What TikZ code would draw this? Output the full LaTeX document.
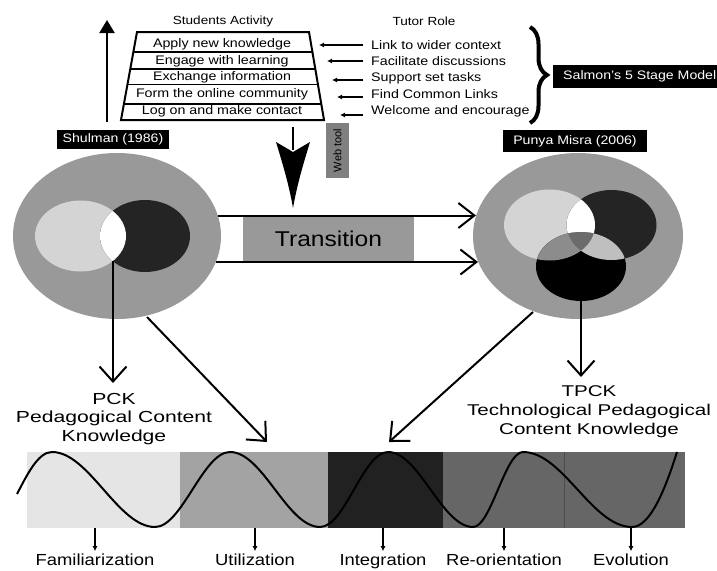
\documentclass[tikz,border=0pt]{standalone}
\usepackage{fontspec}
\setmainfont[FakeStretch=1.15]{Liberation Sans}
\newfontfamily\widefont[FakeStretch=1.32]{Liberation Sans}
\newfontfamily\plainfont{Liberation Sans}
\usetikzlibrary{arrows.meta,decorations.pathreplacing,calc}
\definecolor{bgray}{gray}{0.6}
\definecolor{lgray}{gray}{0.83}
\definecolor{dgray}{gray}{0.14}
\definecolor{ovA}{gray}{0.55}
\definecolor{ovB}{gray}{0.75}
\definecolor{ovC}{gray}{0.42}
\definecolor{webgray}{gray}{0.5}
\definecolor{barA}{gray}{0.9}
\definecolor{barB}{gray}{0.64}
\definecolor{barC}{gray}{0.13}
\definecolor{barD}{gray}{0.4}
\begin{document}
\begin{tikzpicture}[x=1pt,y=-1pt,
  openarrow/.style={line width=2pt,-{Straight Barb[length=15pt,width=27pt]}},
  smallarrow/.style={line width=1.1pt,-{Latex[length=5pt,width=5pt]}},
  blackbox/.style={fill=black,text=white,inner sep=0pt,font=\fontsize{12.3}{14}\selectfont},
  rowtext/.style={inner sep=0pt,font=\fontsize{12.4}{14}\selectfont},
  hdrtext/.style={inner sep=0pt,font=\fontsize{11.8}{14}\selectfont},
  labtext/.style={inner sep=0pt,anchor=base,font=\fontsize{16}{18}\selectfont},
  bigtext/.style={inner sep=0pt,anchor=north,align=center}]
\useasboundingbox (0,0) rectangle (717,570);
\fill[white] (0,0) rectangle (717,570);

% headers
\node[hdrtext] (sa) at (223,21) {Students Activity};
\node[hdrtext] (tr) at (424,21) {Tutor Role};

% trapezoid
\coordinate (tl) at (137,32);
\coordinate (trr) at (309,32);
\coordinate (br) at (324,120);
\coordinate (bl) at (121,120);
\draw[line width=2pt,line join=miter] (tl) -- (trr) -- (br) -- (bl) -- cycle;
\foreach \yy in {52,69,84.5,104}
  \draw[line width=1.2pt] ($(tl)!{(\yy-32)/88}!(bl)$) -- ($(trr)!{(\yy-32)/88}!(br)$);
\node[rowtext] (r1) at (222,44) {Apply new knowledge};
\node[rowtext] (r2) at (222,61) {Engage with learning};
\node[rowtext] (r3) at (222,77.5) {Exchange information};
\node[rowtext] (r4) at (222,94.5) {Form the online community};
\node[rowtext] (r5) at (222,111.5) {Log on and make contact};

% tutor roles
\node[rowtext,anchor=west] (t1) at (371,45) {Link to wider context};
\node[rowtext,anchor=west] (t2) at (371,61) {Facilitate discussions};
\node[rowtext,anchor=west] (t3) at (371,78) {Support set tasks};
\node[rowtext,anchor=west] (t4) at (371,94.5) {Find Common Links};
\node[rowtext,anchor=west] (t5) at (371,111) {Welcome and encourage};
\coordinate (a1) at (319,45);
\coordinate (a2) at (327,61);
\coordinate (a3) at (332,80);
\coordinate (a4) at (337,97);
\coordinate (a5) at (340,115);
\draw[smallarrow] ([xshift=-8pt]t1.west) -- (a1);
\draw[smallarrow] ([xshift=-8pt]t2.west) -- (a2);
\draw[smallarrow] ([xshift=-8pt,yshift=-2pt]t3.west) -- (a3);
\draw[smallarrow] ([xshift=-8pt,yshift=-2.5pt]t4.west) -- (a4);
\draw[smallarrow] ([xshift=-8pt,yshift=-4pt]t5.west) -- (a5);

% brace and Salmon box
\draw[line width=4pt,decorate,decoration={brace,amplitude=17pt}] (530,27) -- (530,123);
\node[blackbox,anchor=west,minimum height=23pt,inner xsep=10pt] (salmon) at (553,76.5) {Salmon's 5 Stage Model};

% upward arrow
\coordinate (upS) at (107,122);
\coordinate (upE) at (107,20);
\draw[line width=2pt,-{Triangle[length=13pt,width=15pt]}] (upS) -- (upE);

% big downward arrow
\coordinate (dnS) at (293,127);
\coordinate (dnH) at (293,150);
\coordinate (dnT) at (293,208);
\draw[line width=2pt] (dnS) -- (dnH);
\fill (276,142) -- (293,152) -- (310,142) .. controls (303,165) and (297,185) .. (dnT)
  .. controls (289,185) and (283,165) .. (276,142) -- cycle;

% web tool
\node[fill=webgray,minimum width=55pt,minimum height=23pt,inner sep=0pt,rotate=90,
  font=\plainfont\fontsize{11}{12}\selectfont] (web) at (337.5,150.5) {Web tool};

% labels
\node[blackbox,minimum width=112pt,minimum height=19pt] (shul) at (113,139.5) {Shulman (1986)};
\node[blackbox,minimum width=144pt,minimum height=22pt] (punya) at (575,141) {Punya Misra (2006)};

% left Venn
\fill[bgray] (117,236) ellipse [x radius=104pt,y radius=83pt];
\fill[lgray] (80.5,236) ellipse [x radius=45.5pt,y radius=35.5pt];
\fill[dgray] (145,236) ellipse [x radius=45pt,y radius=36pt];
\begin{scope}
  \clip (80.5,236) ellipse [x radius=45.5pt,y radius=35.5pt];
  \fill[white] (145,236) ellipse [x radius=45pt,y radius=36pt];
\end{scope}

% right Venn
\fill[bgray] (578,236) ellipse [x radius=105pt,y radius=83pt];
\fill[lgray] (549.5,225) ellipse [x radius=45.5pt,y radius=35.5pt];
\fill[dgray] (611.5,225) ellipse [x radius=45pt,y radius=35pt];
\fill[black] (581,266.5) ellipse [x radius=45pt,y radius=34.5pt];
\begin{scope}
  \clip (549.5,225) ellipse [x radius=45.5pt,y radius=35.5pt];
  \fill[white] (611.5,225) ellipse [x radius=45pt,y radius=35pt];
  \fill[ovA] (581,266.5) ellipse [x radius=45pt,y radius=34.5pt];
\end{scope}
\begin{scope}
  \clip (611.5,225) ellipse [x radius=45pt,y radius=35pt];
  \fill[ovB] (581,266.5) ellipse [x radius=45pt,y radius=34.5pt];
\end{scope}
\begin{scope}
  \clip (549.5,225) ellipse [x radius=45.5pt,y radius=35.5pt];
  \clip (611.5,225) ellipse [x radius=45pt,y radius=35pt];
  \fill[ovC] (581,266.5) ellipse [x radius=45pt,y radius=34.5pt];
\end{scope}

% transition
\node[fill=bgray,minimum width=171pt,minimum height=46.5pt,inner sep=0pt,
  font=\fontsize{21.4}{24}\selectfont] (trans) at (328.5,238.75) {Transition};
\coordinate (tu1) at (218,215.5);
\coordinate (tu2) at (476,215.5);
\coordinate (td1) at (216,262);
\coordinate (td2) at (478,262);
\draw[line width=2pt,-{Straight Barb[length=16pt,width=25pt]}] (tu1) -- (tu2);
\draw[line width=2pt,-{Straight Barb[length=16pt,width=25pt]}] (td1) -- (td2);

% PCK / TPCK
\node[bigtext,font=\widefont\fontsize{16}{18.5}\selectfont] (pck) at (114,393)
  {PCK\\Pedagogical Content\\Knowledge};
\node[bigtext,font=\widefont\fontsize{15.6}{19}\selectfont] (tpck) at (589,385)
  {TPCK\\Technological Pedagogical\\Content Knowledge};

\coordinate (lensL) at (113,261);
\coordinate (pckTip) at (113,383);
\coordinate (diagLs) at (147,317);
\coordinate (diagLe) at (267,442);
\coordinate (diagRs) at (533,312);
\coordinate (diagRe) at (389,442);
\coordinate (blkR) at (581,301);
\coordinate (tpckTip) at (581,377);
\draw[openarrow] (lensL) -- (pckTip);
\draw[openarrow] (diagLs) -- (diagLe);
\draw[openarrow] (diagRs) -- (diagRe);
\draw[openarrow] (blkR) -- (tpckTip);

% bar
\fill[barA] (27,452) rectangle (180,528);
\fill[barB] (180,452) rectangle (328,528);
\fill[barC] (328,452) rectangle (443,528);
\fill[barD] (443,452) rectangle (564,528);
\fill[barD] (564,452) rectangle (685,528);
\draw[black!70,line width=0.5pt] (564,452) -- (564,528);

\draw[line width=2pt] (17,494) .. controls (27,475) and (38,452) .. (52,452)
  .. controls (89,452) and (118,527) .. (155,527)
  .. controls (182,527) and (203,452) .. (230,452)
  .. controls (263,452) and (287,527) .. (320,527)
  .. controls (345,527) and (363,452) .. (388,452)
  .. controls (419,452) and (442,527) .. (473,527)
  .. controls (491,527) and (505,452) .. (523,452)
  .. controls (563,452) and (592,527) .. (632,527)
  .. controls (650,527) and (665,490) .. (677,452);

% bottom labels
\node[labtext] (l1) at (95,565) {Familiarization};
\node[labtext] (l2) at (255,565) {Utilization};
\node[labtext] (l3) at (383,565) {Integration};
\node[labtext] (l4) at (504,565) {Re-orientation};
\node[labtext] (l5) at (631,565) {Evolution};
\coordinate (b1) at (95,528);
\coordinate (b2) at (255,528);
\coordinate (b3) at (383,528);
\coordinate (b4) at (504,528);
\coordinate (b5) at (631,528);
\draw[smallarrow,shorten >=2pt] (b1) -- (l1.north);
\draw[smallarrow,shorten >=2pt] (b2) -- (l2.north);
\draw[smallarrow,shorten >=2pt] (b3) -- (l3.north);
\draw[smallarrow,shorten >=2pt] (b4) -- (l4.north);
\draw[smallarrow,shorten >=2pt] (b5) -- (l5.north);
\end{tikzpicture}
\end{document}
